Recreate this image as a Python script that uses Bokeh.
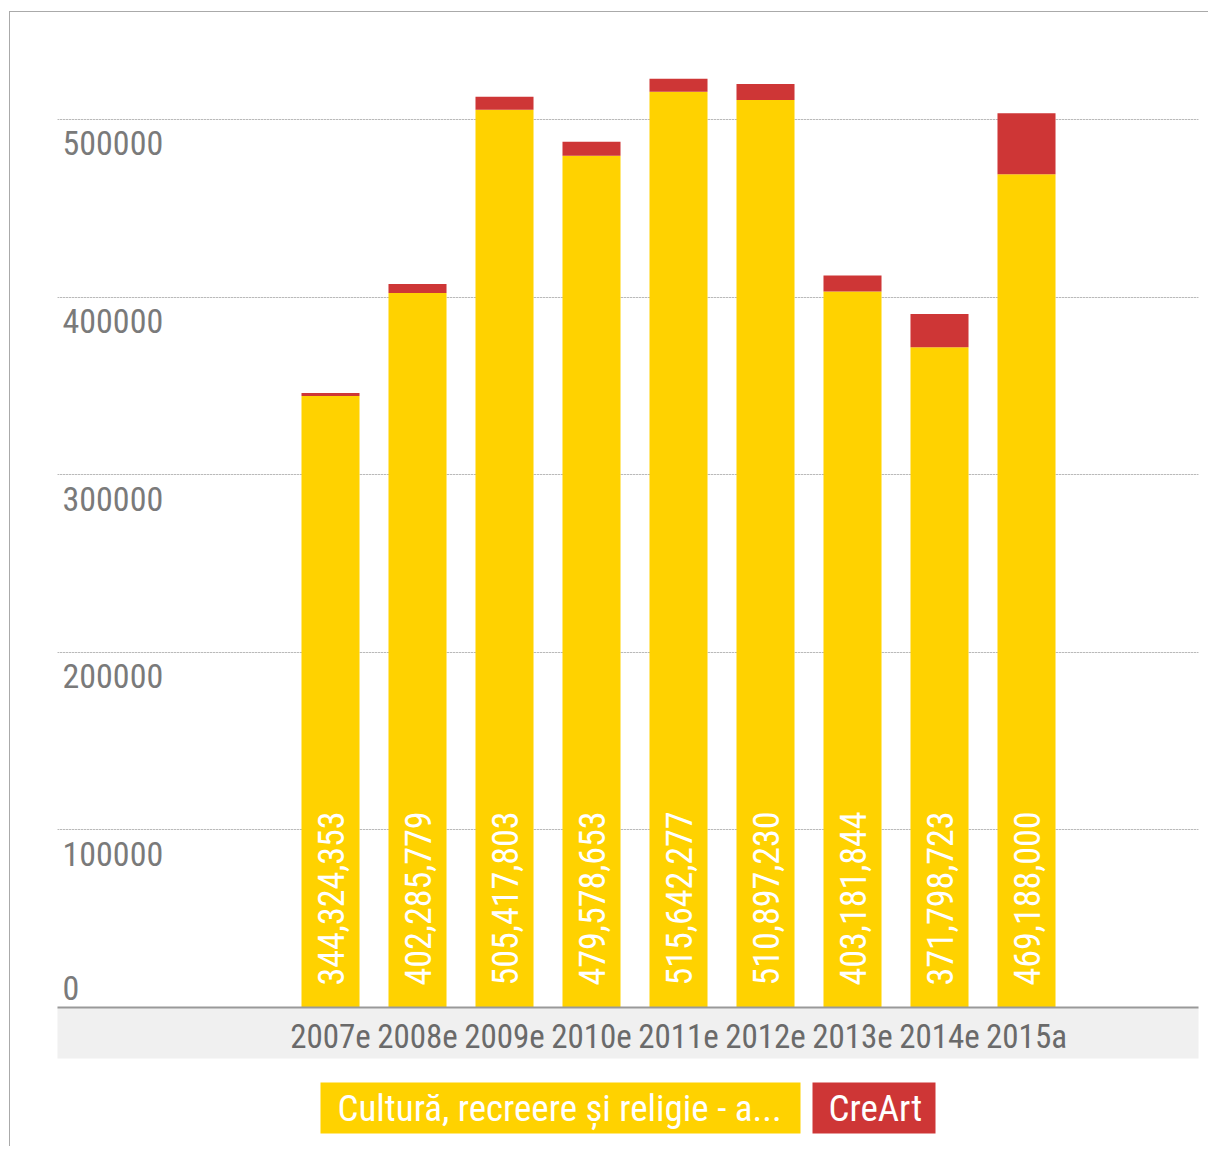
import numpy as np
from bokeh.plotting import figure
from bokeh.models import Range1d, FixedTicker, Grid, ColumnDataSource
from bokeh.layouts import column
from bokeh.core.properties import value
from bokeh.embed import file_html
from bokeh.resources import INLINE

# ---- data ----
years = ["2007e", "2008e", "2009e", "2010e", "2011e", "2012e", "2013e", "2014e", "2015a"]
cultura = [344324.353, 402285.779, 505417.803, 479578.653, 515642.277,
           510897.230, 403181.844, 371798.723, 469188.000]
creart = [1700, 5000, 7300, 7900, 7300, 9000, 9000, 18600, 34300]
y_ticks = [0, 100000, 200000, 300000, 400000, 500000]
series_names = ["Cultură, recreere și religie - a...", "CreArt"]

YELLOW = "#FFD200"
RED = "#CE3636"
FONT = "Roboto Condensed"

xs = list(range(len(years)))
labels = [f"{v:,.3f}".replace(".", ",") for v in cultura]
src = ColumnDataSource(dict(x=xs, cultura=cultura, creart=creart, label=labels))

W = 1198
p = figure(width=W, height=1054, output_backend="svg", toolbar_location=None,
           x_range=Range1d(-3.138, 9.977), y_range=Range1d(0, 555700),
           y_axis_location=None, min_border_left=47, min_border_right=10,
           min_border_top=8, min_border_bottom=59)
p.outline_line_color = None
p.xgrid.visible = False
p.add_layout(Grid(dimension=1, ticker=FixedTicker(ticks=y_ticks[1:]),
                  grid_line_color="#8f8f8f", grid_line_dash="1 2", grid_line_width=1))

p.vbar_stack(["cultura", "creart"], x="x", width=0.667, color=[YELLOW, RED],
             line_color=None, source=src)

# value labels inside bars
p.text(x="x", y=0, text="label", source=src, angle=np.pi / 2,
       text_align="left", text_baseline="middle", y_offset=-22,
       text_color="white", text_font=value(FONT), text_font_size="36px")

# y tick labels
tsrc = ColumnDataSource(dict(x=[-3.138] * (len(y_ticks) - 1), y=y_ticks[1:],
                             t=[str(v) for v in y_ticks[1:]]))
p.text(x="x", y="y", text="t", source=tsrc, x_offset=5, y_offset=12,
       text_align="left", text_baseline="top", text_color="#7a7a7a",
       text_font=value(FONT), text_font_size="34px")
p.text(x=[-3.138], y=[y_ticks[0]], text=[str(y_ticks[0])], x_offset=5, y_offset=-8,
       text_align="left", text_baseline="bottom", text_color="#7a7a7a",
       text_font=value(FONT), text_font_size="34px")

ax = p.xaxis[0]
ax.ticker = FixedTicker(ticks=xs)
ax.major_label_overrides = {i: y for i, y in enumerate(years)}
ax.major_label_text_font = FONT
ax.major_label_text_font_size = "33px"
ax.major_label_text_color = "#6a6a6a"
ax.major_tick_line_color = None
ax.minor_tick_line_color = None
ax.axis_line_color = "#999999"
ax.axis_line_width = 2
ax.major_label_standoff = 3
try:
    ax.background_fill_color = "#f0f0f0"
except Exception:
    pass

# legend figure (page pixel coordinates; its frame is aligned with the main frame)
LH = 80
leg = figure(width=W, height=LH, output_backend="svg", toolbar_location=None,
             x_range=Range1d(57, 1198), y_range=Range1d(LH, 0),
             x_axis_location=None, y_axis_location=None,
             min_border_left=47, min_border_right=10, min_border_top=0,
             min_border_bottom=0)
leg.outline_line_color = None
leg.xgrid.visible = False
leg.ygrid.visible = False
leg.quad(left=[320, 812], right=[800, 935], top=[16, 16], bottom=[67, 67],
         color=[YELLOW, RED], line_color=None)
leg.text(x=[337, 828], y=[42, 42], text=series_names, text_align="left",
         text_baseline="middle", text_color="white", text_font=value(FONT),
         text_font_size="37px")

layout = column(p, leg, spacing=0)
layout.styles = {"margin-left": "9px", "margin-top": "11px",
                 "border-top": "1px solid #aaaaaa", "border-left": "1px solid #aaaaaa"}

open("out.html", "w").write(file_html(layout, INLINE))
